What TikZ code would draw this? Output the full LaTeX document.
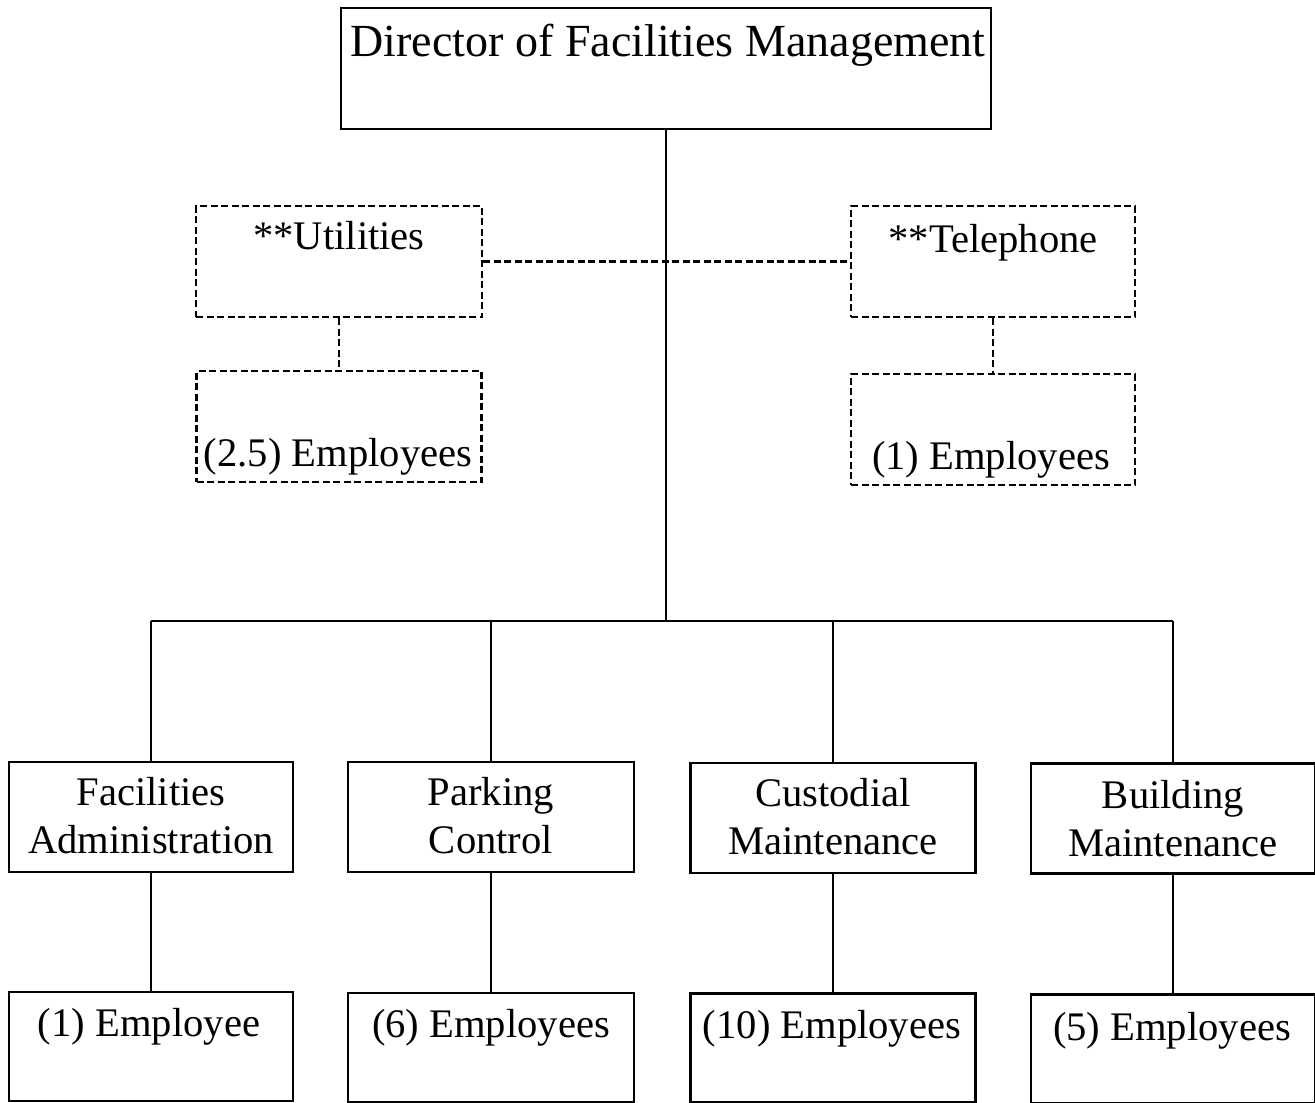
\documentclass[tikz,border=0pt]{standalone}
\usepackage{fontspec}
\setmainfont{Liberation Serif}
\begin{document}
\begin{tikzpicture}[x=1pt,y=-1pt,
  solidbox/.style={draw, line width=2.5pt, inner sep=0pt, minimum width=284pt, minimum height=110pt},
  dashbox/.style={draw, line width=2.4pt, dash pattern=on 7pt off 3.5pt, inner sep=0pt, minimum width=285pt, minimum height=111pt},
  txt/.style={inner sep=0pt, anchor=base, font=\fontsize{40.6}{48}\selectfont},
  bigtxt/.style={inner sep=0pt, anchor=base, font=\fontsize{46}{54}\selectfont},
  link/.style={line width=2.2pt},
  dlink/.style={line width=2.2pt, dash pattern=on 7pt off 3.5pt}]

% page frame
\fill[white] (0,0) rectangle (1315,1103);
\useasboundingbox (0,0) rectangle (1315,1103);

% director
\node[solidbox, minimum width=650pt, minimum height=121pt] (dir) at (666,68.5) {};
\node[bigtxt] (dirtxt) at (668,56) {Director of Facilities Management};

% staff units (dashed)
\node[dashbox, minimum width=286pt] (util) at (339,261.5) {};
\node[txt] (utiltxt) at (339,249) {**Utilities};
\node[dashbox] (utilemp) at (339,426.5) {};
\node[txt] (utilemptxt) at (338,466) {(2.5) Employees};

\node[dashbox, minimum width=284pt] (tel) at (993,261.5) {};
\node[txt] (teltxt) at (993,252) {**Telephone};
\node[dashbox, minimum width=284pt] (telemp) at (993,429.5) {};
\node[txt] (telemptxt) at (991,469) {(1) Employees};

% line departments
\node[solidbox] (fa) at (151,817) {};
\node[txt] (fatxt1) at (151,805) {Facilities};
\node[txt] (fatxt2) at (151,853) {Administration};

\node[solidbox, minimum width=286pt] (pc) at (491,817) {};
\node[txt] (pctxt1) at (491,805) {Parking};
\node[txt] (pctxt2) at (491,853) {Control};

\node[solidbox, minimum width=285pt] (cm) at (833,818) {};
\node[txt] (cmtxt1) at (833,806) {Custodial};
\node[txt] (cmtxt2) at (833,854) {Maintenance};

\node[solidbox] (bm) at (1173,818.5) {};
\node[txt] (bmtxt1) at (1173,808) {Building};
\node[txt] (bmtxt2) at (1173,856) {Maintenance};

% employee counts
\node[solidbox, minimum height=109pt] (faemp) at (151,1046.5) {};
\node[txt] (faemptxt) at (149,1036) {(1) Employee};
\node[solidbox, minimum width=286pt, minimum height=109pt] (pcemp) at (491,1047.5) {};
\node[txt] (pcemptxt) at (491,1037) {(6) Employees};
\node[solidbox, minimum width=285pt, minimum height=109pt] (cmemp) at (833,1048) {};
\node[txt] (cmemptxt) at (832,1038) {(10) Employees};
\node[solidbox, minimum height=109pt] (bmemp) at (1173,1049) {};
\node[txt] (bmemptxt) at (1172,1040) {(5) Employees};

% connectors
\coordinate (hub) at (666,621);
\draw[link] (dir.south) -- (hub);
\draw[dlink] (util.east) -- (tel.west);
\draw[dlink] (util.south) -- (utilemp.north);
\draw[dlink] (tel.south) -- (telemp.north);
\draw[link] (fa.north |- hub) -- (bm.north |- hub);
\foreach \n in {fa,pc,cm,bm}{
  \draw[link] (\n.north |- hub) -- (\n.north);
  \draw[link] (\n.south) -- (\n emp.north);
}
\end{tikzpicture}
\end{document}
